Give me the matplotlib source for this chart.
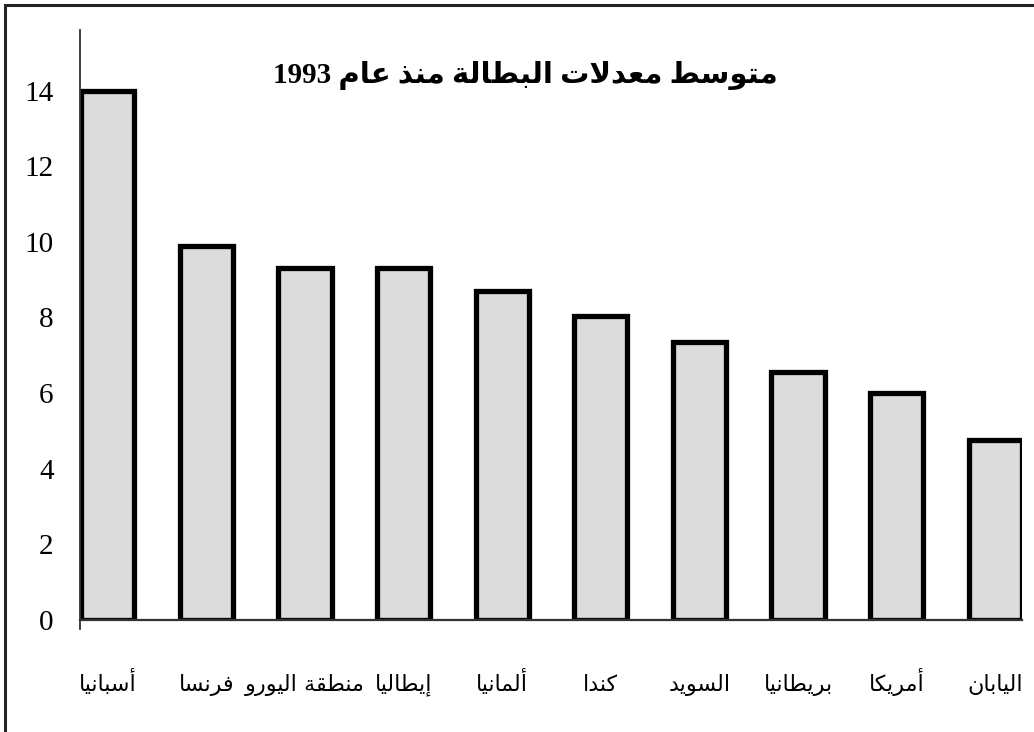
import re
import matplotlib
matplotlib.use('Agg')
import matplotlib.pyplot as plt
from matplotlib.patches import Rectangle

# data
countries = ['أسبانيا', 'فرنسا', 'منطقة اليورو', 'إيطاليا', 'ألمانيا',
             'كندا', 'السويد', 'بريطانيا', 'أمريكا', 'اليابان']
rates = [14.0, 9.9, 9.3, 9.3, 8.7, 8.05, 7.35, 6.55, 6.0, 4.75]
yticks = [0, 2, 4, 6, 8, 10, 12, 14]
title = 'متوسط معدلات البطالة منذ عام 1993'

# minimal arabic shaping (presentation forms B) + visual reorder
FORMS = {  # isolated, final, initial, medial
  'ا': (0xFE8D, 0xFE8E), 'أ': (0xFE83, 0xFE84), 'إ': (0xFE87, 0xFE88),
  'آ': (0xFE81, 0xFE82), 'ة': (0xFE93, 0xFE94), 'د': (0xFEA9, 0xFEAA),
  'ذ': (0xFEAB, 0xFEAC), 'ر': (0xFEAD, 0xFEAE), 'ز': (0xFEAF, 0xFEB0),
  'و': (0xFEED, 0xFEEE), 'ى': (0xFEEF, 0xFEF0),
  'ب': (0xFE8F, 0xFE90, 0xFE91, 0xFE92), 'ت': (0xFE95, 0xFE96, 0xFE97, 0xFE98),
  'ث': (0xFE99, 0xFE9A, 0xFE9B, 0xFE9C), 'ج': (0xFE9D, 0xFE9E, 0xFE9F, 0xFEA0),
  'ح': (0xFEA1, 0xFEA2, 0xFEA3, 0xFEA4), 'خ': (0xFEA5, 0xFEA6, 0xFEA7, 0xFEA8),
  'س': (0xFEB1, 0xFEB2, 0xFEB3, 0xFEB4), 'ش': (0xFEB5, 0xFEB6, 0xFEB7, 0xFEB8),
  'ص': (0xFEB9, 0xFEBA, 0xFEBB, 0xFEBC), 'ض': (0xFEBD, 0xFEBE, 0xFEBF, 0xFEC0),
  'ط': (0xFEC1, 0xFEC2, 0xFEC3, 0xFEC4), 'ظ': (0xFEC5, 0xFEC6, 0xFEC7, 0xFEC8),
  'ع': (0xFEC9, 0xFECA, 0xFECB, 0xFECC), 'غ': (0xFECD, 0xFECE, 0xFECF, 0xFED0),
  'ف': (0xFED1, 0xFED2, 0xFED3, 0xFED4), 'ق': (0xFED5, 0xFED6, 0xFED7, 0xFED8),
  'ك': (0xFED9, 0xFEDA, 0xFEDB, 0xFEDC), 'ل': (0xFEDD, 0xFEDE, 0xFEDF, 0xFEE0),
  'م': (0xFEE1, 0xFEE2, 0xFEE3, 0xFEE4), 'ن': (0xFEE5, 0xFEE6, 0xFEE7, 0xFEE8),
  'ه': (0xFEE9, 0xFEEA, 0xFEEB, 0xFEEC), 'ي': (0xFEF1, 0xFEF2, 0xFEF3, 0xFEF4),
}
LAMALEF = {'ا': (0xFEFB, 0xFEFC), 'أ': (0xFEF7, 0xFEF8),
           'إ': (0xFEF9, 0xFEFA), 'آ': (0xFEF5, 0xFEF6)}

def dual(c):
  return c in FORMS and len(FORMS[c]) == 4

def shape(s):
  out = []
  i = 0
  n = len(s)
  while i < n:
    c = s[i]
    if c not in FORMS:
      out.append(c); i += 1; continue
    prev = s[i-1] if i > 0 else ''
    joinPrev = dual(prev)
    if c == 'ل' and i+1 < n and s[i+1] in LAMALEF:
      out.append(chr(LAMALEF[s[i+1]][1 if joinPrev else 0]))
      i += 2; continue
    nxt = s[i+1] if i+1 < n else ''
    joinNext = dual(c) and nxt in FORMS
    f = FORMS[c]
    if joinPrev and joinNext: g = f[3]
    elif joinPrev: g = f[1]
    elif joinNext: g = f[2]
    else: g = f[0]
    out.append(chr(g)); i += 1
  vis = ''.join(out)[::-1]
  return re.sub(r'[0-9]+', lambda m: m.group(0)[::-1], vis)

fams = ['Liberation Serif', 'DejaVu Sans']

fig = plt.figure(figsize=(10.34, 7.32), dpi=100)
ax = fig.add_axes([0.0774, 0.153, 0.911, 0.806])
x = list(range(len(countries)))
ax.bar(x, rates, width=0.54, color='#dcdcdc', edgecolor='black', linewidth=3.8)

ax.set_xlim(-0.28, len(countries) - 0.73)
ax.set_ylim(0, 15.6)
ax.set_yticks(yticks)
ax.set_yticklabels([str(t) for t in yticks], family='Liberation Serif', fontsize=21)
ax.set_xticks(x)
ax.set_xticklabels([shape(c) for c in countries], family='DejaVu Sans', fontsize=16)
ax.tick_params(axis='y', length=0, pad=19)
ax.tick_params(axis='x', length=0, pad=51)
for lab in ax.get_xticklabels():
  lab.set_va('baseline')
for side in ['top', 'right']:
  ax.spines[side].set_visible(False)
ax.spines['left'].set_color('#333333')
ax.spines['left'].set_linewidth(1.3)
ax.spines['left'].set_bounds(-0.25, 15.6)
ax.spines['bottom'].set_color('#333333')
ax.spines['bottom'].set_linewidth(1.6)

fig.text(0.508, 0.897, shape(title), ha='center', va='center',
         family=fams, fontsize=21, fontweight='bold')

# outer frame
fig.patches.append(Rectangle((5/1034, -0.02), 1.1, (732-5)/732 + 0.02, transform=fig.transFigure,
                             fill=False, edgecolor='#222222', linewidth=2.2))

fig.savefig('out.png', dpi=100)
